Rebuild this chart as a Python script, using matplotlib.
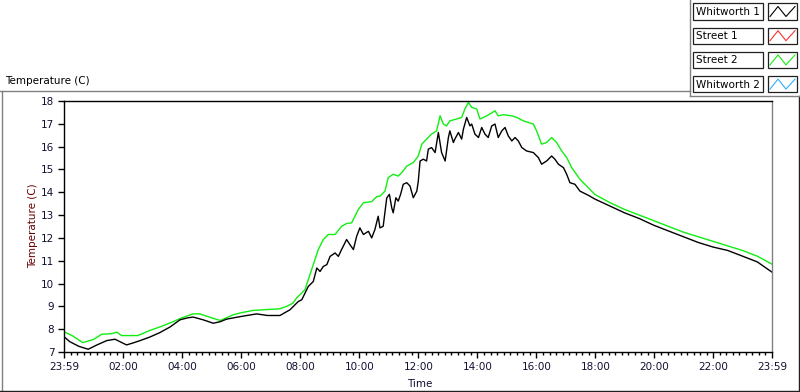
import matplotlib
matplotlib.use("Agg")
import matplotlib.pyplot as plt
from matplotlib.lines import Line2D
from matplotlib.patches import Rectangle
import numpy as np

# ---------------- data ----------------
series_names = ["Whitworth 1", "Street 1", "Street 2", "Whitworth 2"]
series_colors = ["#000000", "#ff3030", "#11ee11", "#30b0ff"]

y_ticks = [7, 8, 9, 10, 11, 12, 13, 14, 15, 16, 17, 18]
x_tick_labels = ["23:59", "02:00", "04:00", "06:00", "08:00", "10:00", "12:00",
                 "14:00", "16:00", "18:00", "20:00", "22:00", "23:59"]

street2_t = [0, 0.3, 0.64, 1.0, 1.28, 1.6, 1.79, 1.95, 2.5, 2.9, 3.3, 3.7, 4.0, 4.37, 4.6,
             5.05, 5.3, 5.73, 6.0, 6.4, 7.0, 7.3, 7.55, 7.76, 7.88, 8.17, 8.28, 8.45, 8.62,
             8.79, 8.96, 9.19, 9.41, 9.58, 9.75, 9.98, 10.15, 10.43, 10.6, 10.71, 10.88,
             10.99, 11.16, 11.33, 11.45, 11.62, 11.84, 12.01, 12.13, 12.29, 12.46, 12.63,
             12.75, 12.86, 12.97, 13.08, 13.31, 13.48, 13.59, 13.71, 13.82, 13.99, 14.10,
             14.33, 14.61, 14.72, 14.89, 15.18, 15.35, 15.57, 15.91, 16.02, 16.19, 16.36,
             16.53, 16.70, 16.87, 17.04, 17.21, 17.49, 18.0, 18.5, 19.0, 19.5, 20.0, 20.5,
             21.0, 21.5, 22.0, 22.5, 23.0, 23.5, 24.0]
street2_v = [7.89, 7.7, 7.41, 7.55, 7.78, 7.80, 7.87, 7.72, 7.72, 7.94, 8.12, 8.33, 8.5,
             8.67, 8.67, 8.48, 8.38, 8.63, 8.72, 8.82, 8.87, 8.89, 9.0, 9.14, 9.36, 9.73,
             10.17, 10.83, 11.49, 11.93, 12.15, 12.15, 12.51, 12.63, 12.66, 13.25, 13.54,
             13.59, 13.81, 13.83, 14.05, 14.64, 14.79, 14.71, 14.86, 15.15, 15.30, 15.59,
             16.11, 16.33, 16.55, 16.69, 17.35, 16.99, 16.91, 17.13, 17.21, 17.28, 17.65,
             17.94, 17.72, 17.65, 17.21, 17.35, 17.57, 17.35, 17.40, 17.35, 17.28, 17.13,
             16.99, 16.69, 16.11, 16.18, 16.40, 16.18, 15.81, 15.52, 15.08, 14.57, 13.9,
             13.55, 13.25, 13.0, 12.75, 12.5, 12.25, 12.05, 11.85, 11.65, 11.45, 11.2, 10.85]

whitworth1_t = [0, 0.2, 0.5, 0.82, 1.1, 1.45, 1.73, 1.9, 2.12, 2.35, 2.58, 2.9, 3.25, 3.6,
                3.93, 4.2, 4.38, 4.72, 5.06, 5.3, 5.51, 5.97, 6.53, 6.9, 7.32, 7.66, 7.94,
                8.06, 8.28, 8.45, 8.57, 8.68, 8.79, 8.91, 9.02, 9.19, 9.30, 9.41, 9.58, 9.69,
                9.81, 9.92, 10.03, 10.15, 10.32, 10.43, 10.54, 10.65, 10.71, 10.82, 10.94,
                11.03, 11.11, 11.16, 11.25, 11.33, 11.41, 11.50, 11.62, 11.73, 11.84, 11.96,
                12.01, 12.07, 12.18, 12.29, 12.35, 12.46, 12.58, 12.69, 12.80, 12.92, 13.03,
                13.08, 13.20, 13.25, 13.37, 13.48, 13.54, 13.65, 13.76, 13.82, 13.93, 14.05,
                14.16, 14.27, 14.38, 14.50, 14.61, 14.72, 14.84, 14.95, 15.06, 15.18, 15.29,
                15.40, 15.52, 15.68, 15.91, 16.08, 16.19, 16.36, 16.53, 16.64, 16.76, 16.93,
                17.04, 17.15, 17.32, 17.49, 17.8, 18.0, 18.5, 19.0, 19.5, 20.0, 20.5, 21.0,
                21.5, 22.0, 22.5, 23.0, 23.5, 24.0]
whitworth1_v = [7.67, 7.45, 7.25, 7.12, 7.3, 7.5, 7.56, 7.45, 7.31, 7.4, 7.5, 7.65, 7.85,
                8.1, 8.41, 8.5, 8.53, 8.41, 8.26, 8.33, 8.44, 8.55, 8.67, 8.6, 8.6, 8.85,
                9.21, 9.29, 9.87, 10.09, 10.68, 10.53, 10.75, 10.83, 11.19, 11.34, 11.19,
                11.49, 11.93, 11.71, 11.49, 12.07, 12.44, 12.15, 12.29, 12.00, 12.37, 12.95,
                12.44, 12.51, 13.75, 13.91, 13.32, 13.10, 13.76, 13.61, 13.91, 14.35, 14.42,
                14.27, 13.76, 14.05, 14.49, 15.37, 15.45, 15.37, 15.89, 15.96, 15.74, 16.62,
                15.74, 15.37, 16.40, 16.69, 16.18, 16.33, 16.62, 16.33, 16.77, 17.28, 16.91,
                16.99, 16.55, 16.40, 16.84, 16.55, 16.40, 16.91, 16.99, 16.40, 16.69, 16.84,
                16.47, 16.25, 16.40, 16.25, 15.96, 15.81, 15.74, 15.52, 15.23, 15.37, 15.59,
                15.45, 15.23, 15.08, 14.79, 14.42, 14.35, 14.05, 13.85, 13.7, 13.4, 13.1,
                12.85, 12.55, 12.3, 12.05, 11.8, 11.6, 11.45, 11.2, 10.95, 10.5]

# ---------------- figure ----------------
W, H = 800, 392
fig = plt.figure(figsize=(W / 100, H / 100), dpi=100)
fig.patch.set_facecolor("white")
FONT = "DejaVu Sans"

def fx(px):
    return px / W

def fy(py):
    return 1 - py / H

ax = fig.add_axes([fx(64), fy(352), fx(772) - fx(64), fy(101) - fy(352)])
ax.set_facecolor("white")

t0 = -1 / 60.0
t1 = 24 - 1 / 60.0
s2t = np.array(street2_t) + t0
w1t = np.array(whitworth1_t) + t0
ax.plot(s2t, street2_v, color=series_colors[2], lw=1.0)
ax.plot(w1t, whitworth1_v, color=series_colors[0], lw=1.0)

ax.set_xlim(t0, t1)
ax.set_ylim(7, 18)

major_x = [t0] + list(range(2, 23, 2)) + [t1]
ax.set_xticks(major_x)
ax.set_xticklabels(x_tick_labels, fontsize=7.5, family=FONT, color="#101030")
minor_x = []
for a, b in zip(major_x[:-1], major_x[1:]):
    for k in range(1, 9):
        minor_x.append(a + (b - a) * k / 9)
ax.set_xticks(minor_x, minor=True)
ax.set_yticks(y_ticks)
ax.set_yticklabels([str(v) for v in y_ticks], fontsize=7.5, family=FONT, color="#101030")

ax.tick_params(axis="both", which="major", direction="out", length=4, width=1, pad=3, color="black")
ax.tick_params(axis="x", which="minor", direction="out", length=2.5, width=1, color="black")
ax.tick_params(axis="y", which="minor", left=False)

for s in ["left", "bottom", "top"]:
    ax.spines[s].set_color("black")
    ax.spines[s].set_linewidth(1.0)
ax.spines["right"].set_color("#808080")
ax.spines["right"].set_linewidth(1.0)

# axis labels
fig.text(fx(33), fy(226), "Temperature (C)", rotation=90, ha="center", va="center",
         fontsize=7.5, family=FONT, color="#6a0000")
fig.text(fx(420), fy(384), "Time", ha="center", va="center",
         fontsize=7.5, family=FONT, color="#101030")
fig.text(fx(5), fy(81), "Temperature (C)", ha="left", va="center",
         fontsize=7.5, family=FONT, color="black")

# outer frame lines
frame_lines = [
    ((0, 690), (91, 91), "#808080"),
    ((1.5, 1.5), (91, 390), "#808080"),
    ((0, 800), (390.5, 390.5), "#202020"),
    ((798.5, 798.5), (96, 390), "#202020"),
    ((690, 690), (0, 96), "#808080"),
    ((690, 800), (96, 96), "#808080"),
]
for xs, ys, c in frame_lines:
    fig.add_artist(Line2D([fx(x) for x in xs], [fy(y) for y in ys], color=c, lw=1.0))

# legend
for i, (name, col) in enumerate(zip(series_names, series_colors)):
    top = 3.5 + 24.2 * i
    bot = top + 16
    fig.add_artist(Rectangle((fx(693), fy(bot)), fx(763) - fx(693), fy(top) - fy(bot),
                             facecolor="white", edgecolor="#202020", lw=0.9))
    fig.text(fx(695.5), fy((top + bot) / 2 + 0.5), name, ha="left", va="center",
             fontsize=7.5, family=FONT, color="black")
    fig.add_artist(Rectangle((fx(767.5), fy(bot)), fx(797) - fx(767.5), fy(top) - fy(bot),
                             facecolor="white", edgecolor="#202020", lw=0.9))
    zx = [770, 778, 786, 795]
    zy = [bot - 3, top + 3, bot - 3, top + 3]
    fig.add_artist(Line2D([fx(x) for x in zx], [fy(y) for y in zy], color=col, lw=0.8))

fig.savefig("out.png", dpi=100, facecolor="white")
